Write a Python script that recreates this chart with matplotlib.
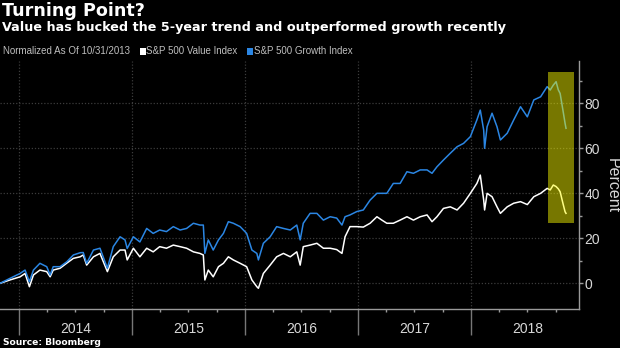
import matplotlib
matplotlib.use("Agg")
import matplotlib.pyplot as plt
import matplotlib.dates as mdates
import matplotlib.transforms as mtransforms
from matplotlib.patches import Rectangle
from matplotlib.ticker import NullFormatter, FixedLocator
import pandas as pd
import datetime as dt

# Cumulative change (%) since 10/31/2013
dates = [
    "2013-10-31", "2013-12-02", "2014-01-04", "2014-01-20", "2014-02-03", "2014-02-16",
    "2014-03-09", "2014-03-31", "2014-04-11", "2014-04-21", "2014-05-13", "2014-06-04",
    "2014-06-25", "2014-07-17", "2014-07-27", "2014-08-07", "2014-08-29", "2014-09-19",
    "2014-10-13", "2014-11-01", "2014-11-23", "2014-12-09", "2014-12-16", "2015-01-05",
    "2015-01-26", "2015-02-17", "2015-03-10", "2015-03-31", "2015-04-22", "2015-05-14",
    "2015-06-05", "2015-06-26", "2015-07-18", "2015-08-08", "2015-08-19", "2015-08-24",
    "2015-09-04", "2015-09-20", "2015-10-07", "2015-10-23", "2015-11-08", "2015-11-24",
    "2015-12-16", "2016-01-06", "2016-01-23", "2016-02-08", "2016-02-13", "2016-02-29",
    "2016-03-22", "2016-04-12", "2016-05-04", "2016-05-26", "2016-06-16", "2016-06-27",
    "2016-07-07", "2016-07-29", "2016-08-20", "2016-09-10", "2016-10-02", "2016-10-23",
    "2016-11-09", "2016-11-19", "2016-12-05", "2016-12-27", "2017-01-17", "2017-02-08",
    "2017-03-02", "2017-03-18", "2017-04-03", "2017-04-24", "2017-05-16", "2017-06-07",
    "2017-06-28", "2017-07-20", "2017-08-11", "2017-08-27", "2017-09-12", "2017-10-03",
    "2017-10-25", "2017-11-16", "2017-12-07", "2017-12-29", "2018-01-19", "2018-01-30",
    "2018-02-10", "2018-02-13", "2018-02-21", "2018-03-09", "2018-03-25", "2018-04-05",
    "2018-04-27", "2018-05-18", "2018-06-09", "2018-07-01", "2018-07-22", "2018-08-13",
    "2018-09-03", "2018-09-13", "2018-09-23", "2018-10-02", "2018-10-09", "2018-10-15",
    "2018-10-24", "2018-10-31", "2018-11-03",
]

value_index = [
    0.0, 1.5, 2.9, 4.4, -1.5, 3.7,
    5.9, 5.2, 2.9, 5.9, 6.7, 9.0,
    11.1, 11.8, 12.6, 8.1, 11.8, 13.3,
    5.2, 11.8, 14.8, 14.8, 10.4, 15.6,
    11.8, 15.6, 14.0, 16.3, 15.6, 17.0,
    16.3, 15.6, 14.0, 13.3, 12.6, 1.5,
    5.9, 2.9, 7.4, 8.9, 11.8, 10.4,
    8.9, 7.4, 1.5, -1.5, -2.2, 4.4,
    8.1, 11.8, 13.3, 11.8, 14.0, 8.1,
    16.3, 17.0, 17.8, 15.6, 15.6, 15.0,
    13.3, 20.7, 25.2, 25.2, 25.0, 26.7,
    29.6, 28.1, 26.7, 26.7, 28.1, 29.6,
    28.1, 29.6, 30.4, 27.4, 29.6, 33.3,
    34.0, 32.6, 35.6, 40.0, 44.4, 48.1,
    37.0, 32.6, 40.0, 38.5, 34.0, 31.1,
    34.0, 35.6, 36.3, 35.0, 38.5, 40.0,
    42.2, 41.5, 43.7, 43.0, 42.0, 40.7,
    35.6, 31.8, 31.1,
]

growth_index = [
    0.0, 2.2, 4.4, 5.9, 0.7, 5.9,
    8.9, 7.4, 3.7, 7.4, 7.4, 9.6,
    12.6, 13.6, 13.7, 8.9, 14.8, 15.6,
    6.7, 16.3, 20.7, 19.3, 15.5, 20.7,
    18.4, 24.4, 22.2, 23.7, 23.0, 25.2,
    23.7, 24.4, 26.7, 25.9, 25.9, 13.3,
    19.3, 14.8, 19.3, 22.2, 27.4, 26.7,
    25.2, 22.2, 14.8, 13.3, 10.4, 17.8,
    20.7, 25.2, 24.4, 23.7, 25.9, 19.3,
    26.7, 31.1, 31.1, 28.1, 29.6, 29.0,
    25.9, 29.6, 30.4, 31.9, 32.6, 37.0,
    40.0, 40.0, 40.0, 44.4, 44.4, 49.6,
    48.9, 50.4, 50.4, 48.9, 51.8, 54.8,
    57.8, 60.7, 62.2, 65.2, 72.6, 77.0,
    68.1, 60.0, 69.6, 75.6, 69.6, 63.7,
    66.7, 72.6, 78.5, 74.0, 81.5, 82.9,
    87.4, 85.9, 88.1, 89.6, 86.0, 84.4,
    77.0, 71.1, 68.9,
]

years = [2014, 2015, 2016, 2017, 2018]
y_ticks = [0, 20, 40, 60, 80]

# highlighted window
hl_start, hl_end = "2018-09-07", "2018-11-29"
hl_low, hl_high = 26.7, 94.0

BG = "black"
BLUE = "#2b86e3"
AXIS = "#9a9a9a"
TEXT = "#d8d8d8"
NARROW = ["Liberation Sans Narrow", "DejaVu Sans Condensed", "Liberation Sans", "DejaVu Sans"]

fig = plt.figure(figsize=(6.2, 3.48), dpi=100, facecolor=BG)
W, H = 620, 348
ax = fig.add_axes([0, (H - 309) / H, 579 / W, 248 / H])
ax.set_facecolor(BG)

x = pd.to_datetime(dates)
ax.plot(x, value_index, color="white", lw=1.1, zorder=3)
ax.plot(x, growth_index, color=BLUE, lw=1.1, zorder=3)

x0 = mdates.date2num(pd.Timestamp(hl_start))
x1 = mdates.date2num(pd.Timestamp(hl_end))
ax.add_patch(Rectangle((x0, hl_low), x1 - x0, hl_high - hl_low,
                       facecolor="#ffff00", alpha=0.47, edgecolor="none", zorder=4))

ax.set_xlim(pd.Timestamp("2013-10-31"), pd.Timestamp("2018-12-15"))
ax.set_ylim(-11.4, 98.8)

# axes styling
for side in ("left", "top"):
    ax.spines[side].set_visible(False)
for side in ("right", "bottom"):
    ax.spines[side].set_color(AXIS)
    ax.spines[side].set_linewidth(1.0)

ax.yaxis.tick_right()
ax.set_yticks(y_ticks)
ax.yaxis.set_minor_locator(FixedLocator([10, 30, 50, 70, 90]))
ax.tick_params(axis="y", which="major", length=3, width=1, color=AXIS,
               labelcolor=TEXT, labelsize=10, pad=1)
ax.tick_params(axis="y", which="minor", length=2, width=1, color=AXIS)
for lab in ax.get_yticklabels():
    lab.set_family(NARROW)

ax.xaxis.set_major_locator(mdates.YearLocator())
ax.xaxis.set_major_formatter(NullFormatter())
ax.xaxis.set_minor_locator(mdates.MonthLocator(bymonth=[4, 7, 10]))
ax.tick_params(axis="x", which="major", length=19, width=1, color="#777777")
ax.tick_params(axis="x", which="minor", length=2, width=1, color=AXIS)

ax.grid(which="major", color="#3c3c3c", linestyle=(0, (1, 1.5)), linewidth=0.9)
ax.set_axisbelow(True)

trans = mtransforms.blended_transform_factory(ax.transData, ax.transAxes)
for yr in years:
    ax.text(dt.date(yr, 7, 2), -20 / 248, str(yr), transform=trans, ha="center",
            va="center", color=TEXT, fontsize=10, family=NARROW)

fig.text(612 / W, 1 - 186 / H, "Percent", rotation=270, ha="center", va="center",
         color=TEXT, fontsize=11.5, family=NARROW)

# headings
fig.text(2 / W, 1 - 16.5 / H, "Turning Point?", color="white", fontsize=12.6,
         fontweight="bold", va="baseline", ha="left")
fig.text(2 / W, 1 - 30.5 / H,
         "Value has bucked the 5-year trend and outperformed growth recently",
         color="white", fontsize=9.2, fontweight="bold", va="baseline", ha="left")

LEG = 7.0
fig.text(3 / W, 1 - 54.5 / H, "Normalized As Of 10/31/2013", color="#bfbfbf",
         fontsize=LEG, family=NARROW, va="baseline", ha="left")
fig.patches.append(Rectangle((140 / W, 1 - 54.5 / H), 5.5 / W, 6 / H, facecolor="white",
                             edgecolor="none", transform=fig.transFigure, figure=fig))
fig.text(146.5 / W, 1 - 54.5 / H, "S&P 500 Value Index", color="#bfbfbf",
         fontsize=LEG, family=NARROW, va="baseline", ha="left")
fig.patches.append(Rectangle((247 / W, 1 - 54.5 / H), 5.5 / W, 6 / H, facecolor=BLUE,
                             edgecolor="none", transform=fig.transFigure, figure=fig))
fig.text(253.5 / W, 1 - 54.5 / H, "S&P 500 Growth Index", color="#bfbfbf",
         fontsize=LEG, family=NARROW, va="baseline", ha="left")

fig.text(3 / W, 1 - 345 / H, "Source: Bloomberg", color="white", fontsize=6.6,
         fontweight="bold", va="baseline", ha="left")

fig.savefig("out.png", dpi=100, facecolor=BG)
